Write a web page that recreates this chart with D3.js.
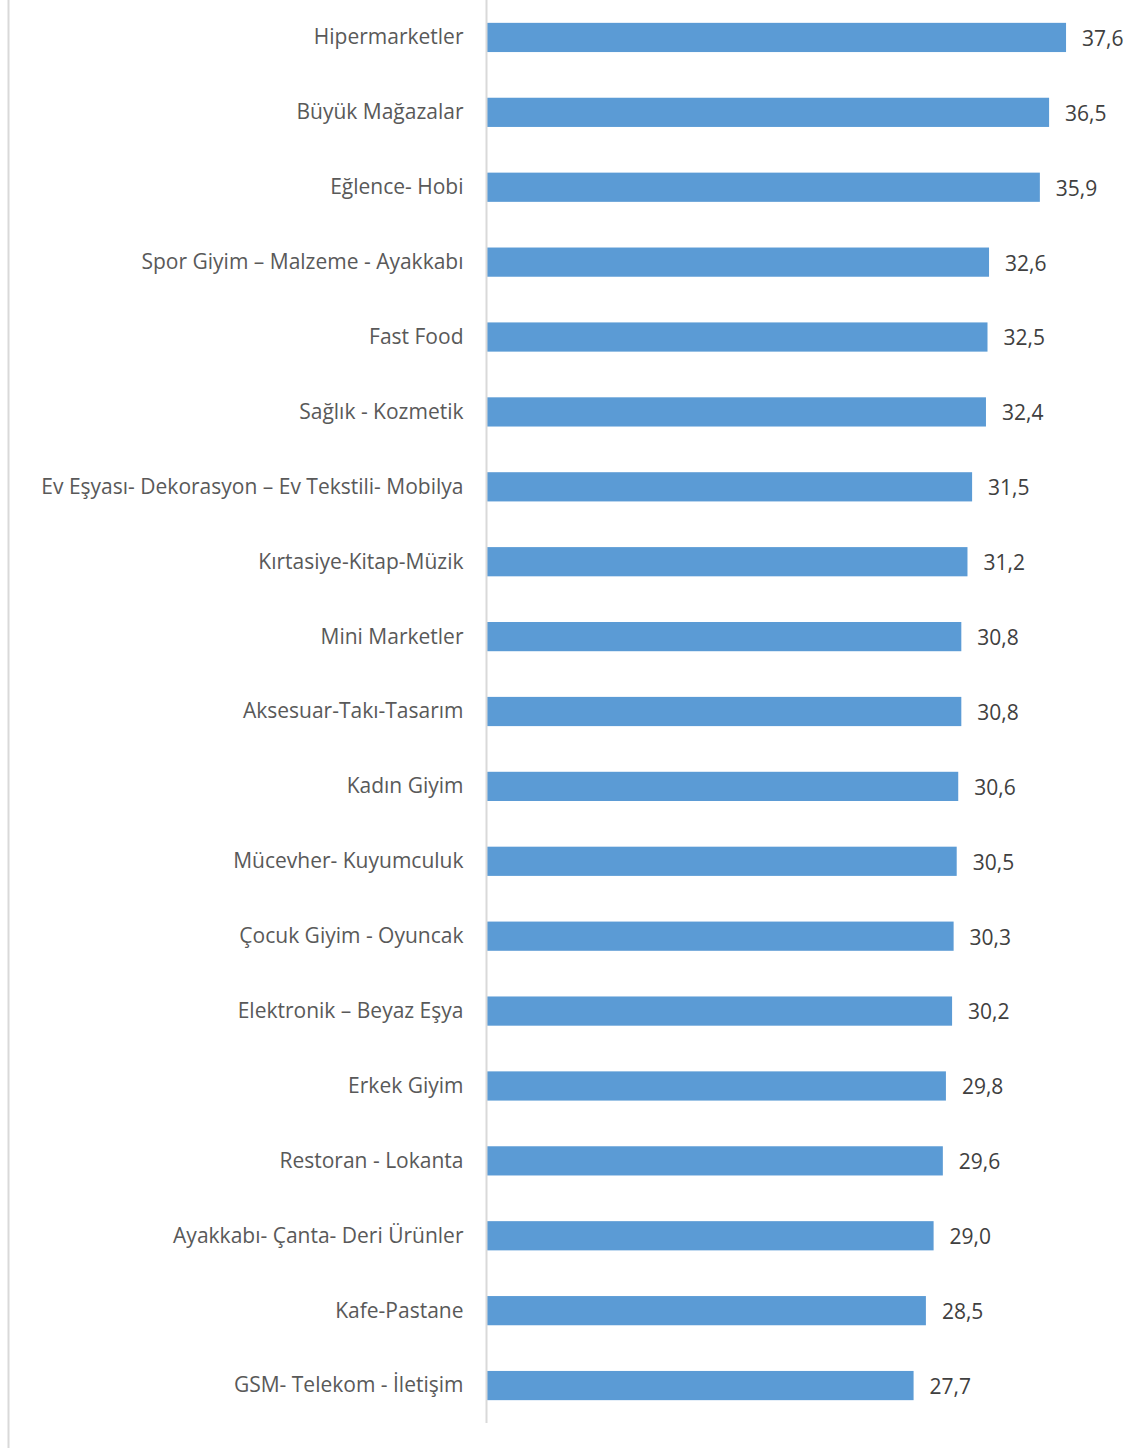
<!DOCTYPE html>
<html>
<head>
<meta charset="utf-8">
<script src="https://cdn.jsdelivr.net/npm/d3@7"></script>
<style>
  html, body { margin: 0; padding: 0; background: #ffffff; }
  svg { display: block; }
</style>
</head>
<body>
<svg id="chart" width="1145" height="1448"></svg>
<script>
const categories = [
  "Hipermarketler",
  "Büyük Mağazalar",
  "Eğlence- Hobi",
  "Spor Giyim – Malzeme - Ayakkabı",
  "Fast Food",
  "Sağlık - Kozmetik",
  "Ev Eşyası- Dekorasyon – Ev Tekstili- Mobilya",
  "Kırtasiye-Kitap-Müzik",
  "Mini Marketler",
  "Aksesuar-Takı-Tasarım",
  "Kadın Giyim",
  "Mücevher- Kuyumculuk",
  "Çocuk Giyim - Oyuncak",
  "Elektronik – Beyaz Eşya",
  "Erkek Giyim",
  "Restoran - Lokanta",
  "Ayakkabı- Çanta- Deri Ürünler",
  "Kafe-Pastane",
  "GSM- Telekom - İletişim"
];
const values = [37.6, 36.5, 35.9, 32.6, 32.5, 32.4, 31.5, 31.2, 30.8, 30.8, 30.6, 30.5, 30.3, 30.2, 29.8, 29.6, 29.0, 28.5, 27.7];
const valueDomain = [0, 40];

const data = categories.map((c, i) => ({ name: c, value: values[i] }));
const svg = d3.select("#chart");
const fontFamily = "'Open Sans', 'Noto Sans', sans-serif";

const x = d3.scaleLinear().domain(valueDomain).range([487, 1103]);
const y = d3.scaleBand().domain(categories).range([0, 1423]).paddingInner(0.61).paddingOuter(0.305);

// left chart border
svg.append("line")
  .attr("x1", 8.5).attr("x2", 8.5).attr("y1", 0).attr("y2", 1448)
  .attr("stroke", "#d9d9d9").attr("stroke-width", 2);

// bars
svg.append("g").selectAll("rect").data(data).join("rect")
  .attr("x", x(0))
  .attr("y", d => y(d.name))
  .attr("width", d => x(d.value) - x(0))
  .attr("height", y.bandwidth())
  .attr("fill", "#5b9bd5");

// category axis
const axis = svg.append("g")
  .attr("transform", `translate(${x(0) - 0.5},0)`)
  .call(d3.axisLeft(y).tickSize(0).tickPadding(23));
axis.select(".domain").attr("stroke", "#d9d9d9").attr("stroke-width", 2).attr("d", "M0,0V1423");
axis.selectAll(".tick text")
  .attr("font-family", fontFamily)
  .attr("font-size", "21px")
  .attr("fill", "#595959")
  .attr("dy", "0.33em");

// value labels
svg.append("g").selectAll("text").data(data).join("text")
  .attr("x", d => x(d.value) + 16)
  .attr("y", d => y(d.name) + y.bandwidth() / 2)
  .attr("dy", "0.4em")
  .attr("font-family", fontFamily)
  .attr("font-size", "21px")
  .attr("fill", "#404040")
  .text(d => d3.format(".1f")(d.value).replace(".", ","));
</script>
</body>
</html>
